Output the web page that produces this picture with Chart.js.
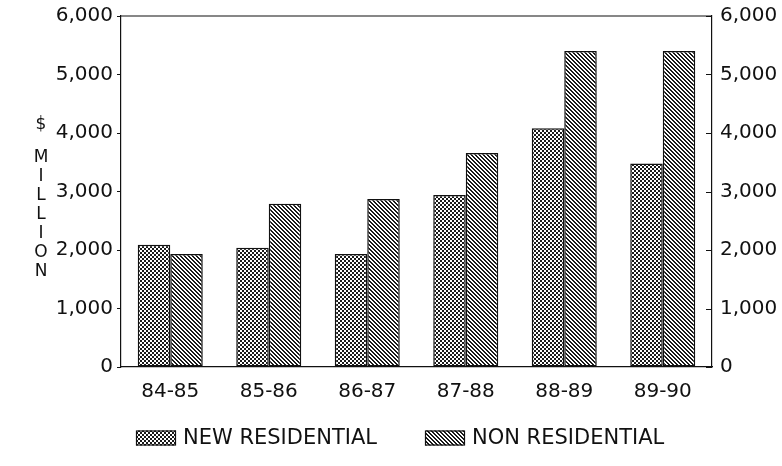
<!DOCTYPE html>
<html>
<head>
<meta charset="utf-8">
<script src="https://cdn.jsdelivr.net/npm/chart.js@4.4.1/dist/chart.umd.min.js"></script>
<style>
  html, body { margin: 0; padding: 0; background: #fff; }
  #wrap { width: 782px; height: 466px; position: relative; }
</style>
</head>
<body>
<div id="wrap"><canvas id="c" width="782" height="466"></canvas></div>
<script>
// Building approvals by financial year ($ million)
const years = ['84-85', '85-86', '86-87', '87-88', '88-89', '89-90'];
const newResidential = [2090, 2040, 1930, 2940, 4080, 3480];
const nonResidential = [1930, 2790, 2870, 3660, 5400, 5400];
const seriesNames = ['NEW RESIDENTIAL', 'NON RESIDENTIAL'];
const axisTitleTop = '$';
const axisTitleWord = 'MILLION';

const FONT = 'DejaVu Sans';
const INK = '#111111';

// Small fill patterns: a fine checker for one series, diagonal hatching for the other
function makePattern(painter) {
  const c = document.createElement('canvas');
  c.width = 4; c.height = 4;
  const g = c.getContext('2d');
  g.fillStyle = '#fff';
  g.fillRect(0, 0, 4, 4);
  g.fillStyle = '#1a1a1a';
  for (let y = 0; y < 4; y++) {
    for (let x = 0; x < 4; x++) {
      if (painter(x, y)) g.fillRect(x, y, 1, 1);
    }
  }
  return document.getElementById('c').getContext('2d').createPattern(c, 'repeat');
}
const checker = makePattern((x, y) => ((x >> 1) + (y >> 1)) % 2 === 0);
const hatch = makePattern((x, y) => (((x - y) % 4) + 4) % 4 < 2);

// Legend row positions (box left edge of each entry) and the text row centre
const legendBoxX = [136, 425];
const legendY = 438;

// Frame top edge, inward ticks on the right axis, stacked axis title, legend row
const decorations = {
  id: 'decorations',
  afterDraw(chart) {
    const { ctx, chartArea: a } = chart;
    ctx.save();
    ctx.strokeStyle = INK;
    ctx.lineWidth = 1.2;
    ctx.beginPath();
    ctx.moveTo(a.left, a.top);
    ctx.lineTo(a.right, a.top);
    ctx.stroke();

    const s = chart.scales.y2;
    ctx.beginPath();
    s.ticks.forEach(t => {
      const y = Math.round(s.getPixelForValue(t.value)) + 0.5;
      ctx.moveTo(a.right - 6, y);
      ctx.lineTo(a.right, y);
    });
    ctx.stroke();

    ctx.fillStyle = INK;
    ctx.textAlign = 'center';
    ctx.textBaseline = 'middle';
    ctx.font = '17px "' + FONT + '"';
    ctx.fillText(axisTitleTop, 41, 125);
    axisTitleWord.split('').forEach((ch, i) => {
      ctx.fillText(ch, 41, 158 + i * 19);
    });

    // legend entries built from the datasets
    ctx.textAlign = 'left';
    ctx.font = '21px "' + FONT + '"';
    chart.data.datasets.forEach((ds, i) => {
      const bx = legendBoxX[i];
      ctx.fillStyle = ds.backgroundColor;
      ctx.fillRect(bx, legendY - 7.5, 40, 15);
      ctx.lineWidth = 1.2;
      ctx.strokeStyle = INK;
      ctx.strokeRect(bx + 0.5, legendY - 7, 39, 14);
      ctx.fillStyle = INK;
      ctx.fillText(ds.label, bx + 47, legendY + 1);
    });
    ctx.restore();
  }
};

function fixWidth(w) {
  return scale => {
    scale.width = w;
    scale.paddingTop = 0;
    scale.paddingBottom = 0;
  };
}

new Chart(document.getElementById('c'), {
  type: 'bar',
  data: {
    labels: years,
    datasets: [
      {
        label: seriesNames[0],
        data: newResidential,
        backgroundColor: checker,
        borderColor: INK,
        borderWidth: 1.5,
        borderSkipped: false,
        yAxisID: 'y'
      },
      {
        label: seriesNames[1],
        data: nonResidential,
        backgroundColor: hatch,
        borderColor: INK,
        borderWidth: 1.5,
        borderSkipped: false,
        yAxisID: 'y'
      }
    ]
  },
  options: {
    responsive: false,
    animation: false,
    devicePixelRatio: 1,
    layout: { padding: { top: 16, left: 0, right: 0, bottom: 54 } },
    datasets: { bar: { categoryPercentage: 0.66, barPercentage: 1.0 } },
    plugins: {
      tooltip: { enabled: false },
      legend: { display: false }
    },
    scales: {
      x: {
        grid: { display: false, drawTicks: false },
        border: { display: true, color: INK, width: 1.2 },
        ticks: { color: INK, padding: 13, font: { family: FONT, size: 20 }, maxRotation: 0 },
        afterFit(scale) { scale.height = 45; }
      },
      y: {
        position: 'left',
        min: 0, max: 6000,
        grid: { display: true, drawOnChartArea: false, drawTicks: true, tickLength: 4, color: INK },
        border: { display: true, color: INK, width: 1.2 },
        ticks: {
          stepSize: 1000, padding: 4, color: INK,
          font: { family: FONT, size: 20 },
          callback: v => v.toLocaleString('en-US')
        },
        afterFit: fixWidth(121)
      },
      y2: {
        position: 'right',
        min: 0, max: 6000,
        grid: { display: false, drawTicks: false },
        border: { display: true, color: INK, width: 1.2 },
        ticks: {
          stepSize: 1000, padding: 8, color: INK,
          font: { family: FONT, size: 20 },
          callback: v => v.toLocaleString('en-US')
        },
        afterFit: fixWidth(70)
      }
    }
  },
  plugins: [decorations]
});
</script>
</body>
</html>
